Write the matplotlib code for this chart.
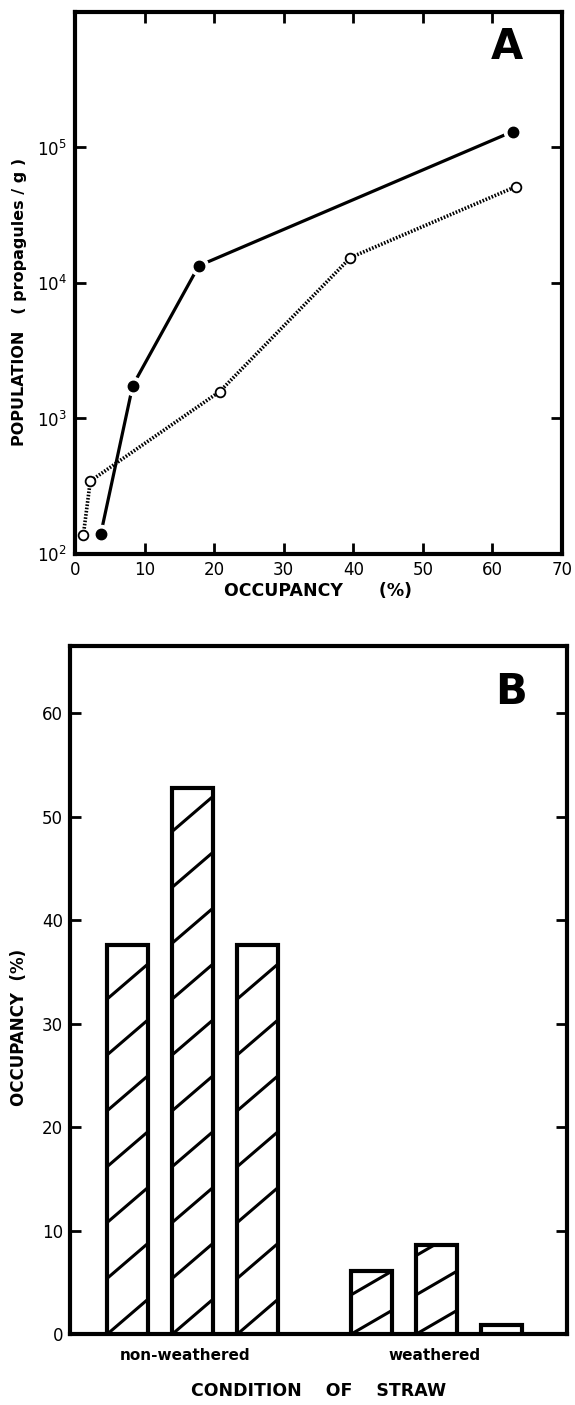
import numpy as np
import matplotlib.pyplot as plt
from matplotlib.ticker import FixedLocator, NullLocator

# Panel A: population vs occupancy
occ_filled = [3.7, 8.3, 17.8, 62.9]
pop_filled = [140, 1750, 13400, 131000]
occ_open = [1.2, 2.2, 20.8, 39.6, 63.4]
pop_open = [138, 345, 1580, 15400, 51500]
decades = [1e2, 1e3, 1e4, 1e5]
decade_labels = ['2', '3', '4', '5']
occ_ticks = [0, 10, 20, 30, 40, 50, 60, 70]

# Panel B: occupancy by straw condition
groups = ['non-weathered', 'weathered']
nonweathered = [37.6, 52.8, 37.6]
weathered = [6.1, 8.6, 0.9]
b_ticks = [0, 10, 20, 30, 40, 50, 60]

plt.rcParams['font.family'] = ['DejaVu Sans']
plt.rcParams['axes.linewidth'] = 3

fig = plt.figure(figsize=(5.75, 14.05), dpi=100)

# ---------------- Panel A ----------------
ax = fig.add_axes([0.1304, 0.6057, 0.847, 0.3858])
ax.set_yscale('log')
ax.plot(occ_filled, pop_filled, '-', color='black', lw=2.3, zorder=2)
ax.plot(occ_filled, pop_filled, 'o', ms=13, mfc='white', mec='white', zorder=3)
ax.plot(occ_filled, pop_filled, 'o', ms=7.5, mfc='black', mec='black', zorder=4)
ax.plot(occ_open, pop_open, color='black', lw=2.6, linestyle=(0, (0.45, 0.45)), zorder=2)
ax.plot(occ_open, pop_open, 'o', ms=7, mfc='white', mec='black', mew=1.3, zorder=4)

ax.set_xlim(0, 70)
ax.set_ylim(1e2, 1e6)
ax.xaxis.set_major_locator(FixedLocator(occ_ticks))
ax.set_xticklabels([str(t) for t in occ_ticks])
ax.yaxis.set_major_locator(FixedLocator(decades))
ax.yaxis.set_minor_locator(NullLocator())
ax.set_yticklabels([r'$\mathregular{10^{%s}}$' % d for d in decade_labels])
ax.tick_params(axis='both', direction='in', length=8, width=2, labelsize=12,
               top=True, right=True, pad=5)
ax.tick_params(axis='y', pad=6)
ax.set_xlabel('OCCUPANCY      (%)', fontsize=12.5, fontweight='bold', labelpad=2)
ax.set_ylabel('POPULATION   ( propagules / g )', fontsize=11.5, fontweight='bold')
ax.yaxis.set_label_coords(-0.098, 0.465)
ax.text(0.887, 0.935, 'A', transform=ax.transAxes, fontsize=30,
        fontweight='bold', ha='center', va='center')

# ---------------- Panel B ----------------
bx = fig.add_axes([0.1217, 0.0505, 0.8643, 0.4897])
unit = 1.0
group_start = [0.0, 3.75]
width = 0.63
hatch_spacing = [5.4, 3.8]
hatch_rise = [3.4, 2.3]

for g, vals in enumerate([nonweathered, weathered]):
    pos = group_start[g] + unit * np.arange(len(vals))
    bars = bx.bar(pos, vals, width=width, color='white', edgecolor='black',
                  linewidth=3, zorder=3)
    for p, v, rect in zip(pos, vals, bars):
        if v < 2:
            continue
        x0, x1 = p - width / 2, p + width / 2
        k = 0
        while k * hatch_spacing[g] < v:
            y0 = k * hatch_spacing[g]
            ln, = bx.plot([x0, x1], [y0, y0 + hatch_rise[g]], color='black',
                          lw=2.2, zorder=3.5, solid_capstyle='butt')
            ln.set_clip_path(rect)
            k += 1

bx.set_xlim(-0.89, 6.75)
bx.set_ylim(0, 66.5)
bx.yaxis.set_major_locator(FixedLocator(b_ticks))
bx.set_yticklabels([str(t) for t in b_ticks])
bx.set_xticks([group_start[0] + 0.88, group_start[1] + 0.97])
bx.set_xticklabels(groups, fontsize=11, fontweight='bold')
bx.tick_params(axis='x', length=0, pad=10)
bx.tick_params(axis='y', direction='in', length=8, width=2, labelsize=12,
               right=True, pad=5)
bx.set_xlabel('CONDITION    OF    STRAW', fontsize=12.5,
              fontweight='bold', labelpad=14)
bx.set_ylabel('OCCUPANCY  (%)', fontsize=12, fontweight='bold')
bx.yaxis.set_label_coords(-0.085, 0.445)
bx.text(0.888, 0.933, 'B', transform=bx.transAxes, fontsize=30,
        fontweight='bold', ha='center', va='center')

fig.savefig('out.png', dpi=100)
